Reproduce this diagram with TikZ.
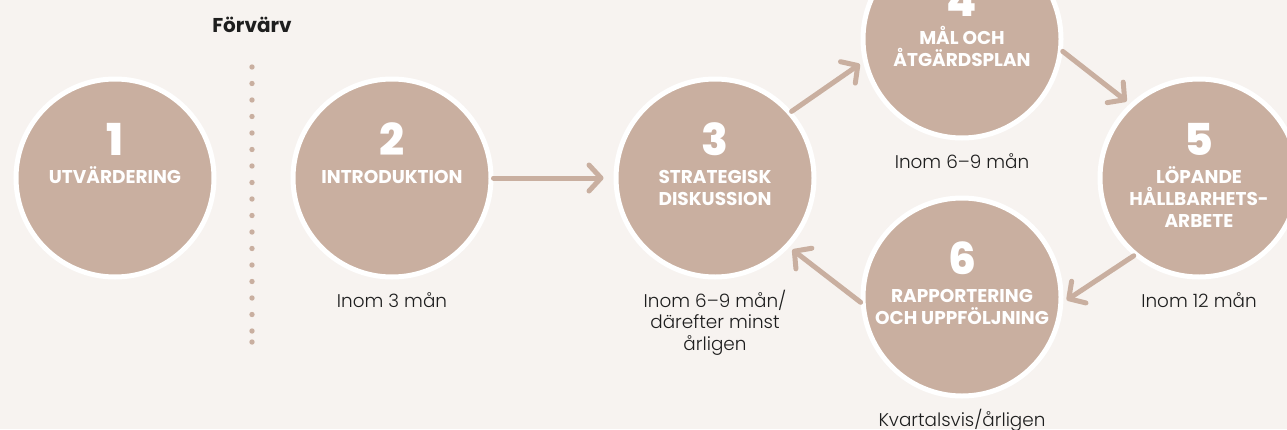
\documentclass[tikz,border=0pt]{standalone}
\usepackage{fontspec}
\setmainfont{Poppins}
\newfontfamily\lightfont{Poppins Light}
\newfontfamily\boldfont{Poppins Bold}
\newfontfamily\heavyfont{Poppins ExtraBold}
\usetikzlibrary{arrows.meta}
\usetikzlibrary{calc}

\definecolor{stepbrown}{HTML}{C9AFA0}
\definecolor{paper}{HTML}{F7F3F0}
\definecolor{inkdark}{HTML}{1E1E1E}

\tikzset{
	stepcircle/.style={circle, fill=stepbrown, draw=white, line width=5pt, minimum size=198pt, inner sep=0pt},
	stepnumber/.style={text=white, font=\heavyfont\fontsize{44}{44}\selectfont, inner sep=0pt},
	steplabel/.style={text=white, font=\boldfont\fontsize{18.5}{22}\selectfont, align=center, inner sep=0pt},
	stepnote/.style={text=inkdark, font=\lightfont\fontsize{18.4}{21.5}\selectfont, align=center, inner sep=0pt},
	steparrow/.style={draw=stepbrown, line width=5pt, line cap=round, -{Straight Barb[length=12pt, width=26pt, round]}, shorten >=4pt},
}

% first line is held at 18pt high by a strut, so north sits 18pt over its baseline
\newcommand{\drawStep}[4]{
	\node[stepcircle] (#1) at (#2) {};
	\node[stepnumber] (#1num) at ($(#1.center)+(0,-38.5)$) {#3};
	\node[steplabel, anchor=north] (#1txt) at ($(#1.center)+(0,-12.5)$) {\rule{0pt}{18pt}#4};
}
\newcommand{\drawNote}[2]{
	\node[stepnote, anchor=north] (#1note) at ($(#1.center)+(0,111)$) {\rule{0pt}{18pt}#2};
}
\newcommand{\drawStepArrow}[3][]{
	\draw[steparrow,#1] (#2) -- (#3);
}

\begin{document}
\begin{tikzpicture}[x=1pt, y=-1pt]
		\useasboundingbox (0,0) rectangle (1287,429);
		\clip (0,0) rectangle (1287,429);
		\fill[paper] (0,0) rectangle (1287,429);

		\coordinate (P1) at (115,178);
		\coordinate (P2) at (392,178);
		\coordinate (P3) at (715,178);
		\coordinate (P4) at (962,39);
		\coordinate (P5) at (1199,178);
		\coordinate (P6) at (962,297);

		\node[font=\boldfont\fontsize{20}{24}\selectfont, text=inkdark, anchor=base] (acq) at (252,32) {Förvärv};
		\foreach \k in {0,...,16}
			\fill[stepbrown] (252,{67+16.5*\k}) circle (2.7pt);
		\fill[stepbrown] (252,342) circle (2.7pt);

		\drawStep{S1}{P1}{1}{UTVÄRDERING}
		\drawStep{S2}{P2}{2}{INTRODUKTION}
		\drawStep{S3}{P3}{3}{STRATEGISK\\DISKUSSION}
		\drawStep{S4}{P4}{4}{MÅL OCH\\ÅTGÄRDSPLAN}
		\drawStep{S5}{P5}{5}{LÖPANDE\\HÅLLBARHETS-\\ARBETE}
		\drawStep{S6}{P6}{6}{RAPPORTERING\\OCH UPPFÖLJNING}

		\drawNote{S2}{Inom 3 mån}
		\drawNote{S3}{Inom 6–9 mån/\\därefter minst\\årligen}
		\drawNote{S4}{Inom 6–9 mån}
		\drawNote{S5}{Inom 12 mån}
		\drawNote{S6}{Kvartalsvis/årligen}

		\drawStepArrow[shorten >=10pt]{S2.east}{S3.west}
		\drawStepArrow{S3.41}{S4.193}
		\drawStepArrow{S4.-7}{S5.133}
		\drawStepArrow{S5.230}{S6.-3}
		\drawStepArrow{S6.183}{S3.-43}
	\end{tikzpicture}
\end{document}
